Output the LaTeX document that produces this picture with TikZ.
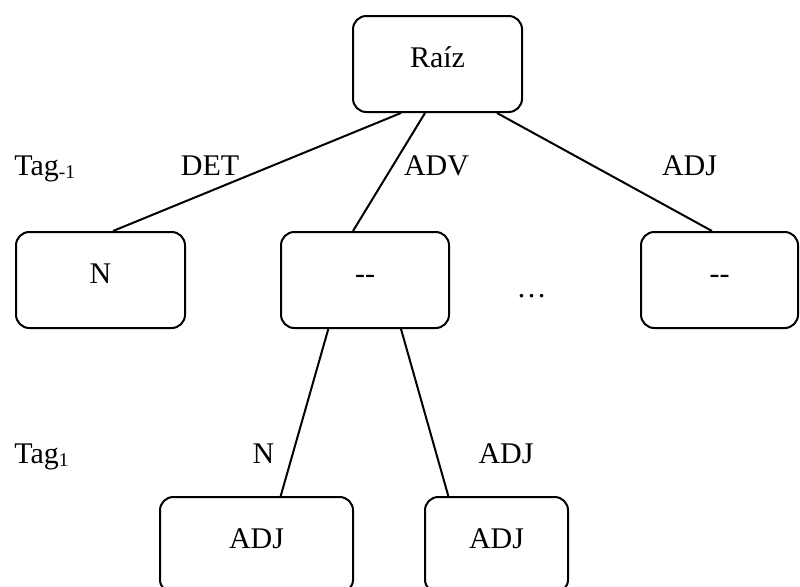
\documentclass[tikz,border=0pt]{standalone}
\usepackage{fontspec}
\setmainfont{Liberation Serif}
\usetikzlibrary{calc}
% small lowered index for the level labels
\newcommand\lvlidx[1]{\raisebox{-2.5pt}{\fontsize{14.6}{16}\selectfont #1}}
\begin{document}
\begin{tikzpicture}[x=0.75pt,y=-0.75pt,
  box/.style={draw, line width=1.5pt, rounded corners=10pt, inner sep=0pt,
    minimum height=72pt, text height=15pt, text depth=10.5pt,
    font=\fontsize{22.5}{27}\selectfont},
  lbl/.style={inner sep=0pt, anchor=base, font=\fontsize{22.5}{27}\selectfont},
  edge/.style={line width=1.5pt}]
\useasboundingbox (0,0) rectangle (800,586);
\clip (0,0) rectangle (800,586);

% tree nodes
\node[box, minimum width=126.75pt] (root) at (437.5,64) {Raíz};
\node[box, minimum width=126.75pt] (n) at (100.5,280) {N};
\node[box, minimum width=126pt] (mid) at (365,280) {-{}-};
\node[box, minimum width=117.75pt] (rgt) at (719.5,280) {-{}-};
\node[box, minimum width=144.75pt] (adjl) at (256.5,545) {ADJ};
\node[box, minimum width=107.25pt] (adjr) at (496.5,545) {ADJ};

% branches
\draw[edge] ($(root.south)+(-36.5,0)$) -- ($(n.north)+(12.5,0)$);
\draw[edge] ($(root.south)+(-12.5,0)$) -- ($(mid.north)+(-12,0)$);
\draw[edge] ($(root.south)+(59.5,0)$) -- ($(rgt.north)+(-7.5,0)$);
\draw[edge] ($(mid.south)+(-36.7,0)$) -- ($(adjl.north)+(24.2,0)$);
\draw[edge] ($(mid.south)+(36,0)$) -- ($(adjr.north)+(-48.2,0)$);

% level and branch labels
\node[lbl, anchor=base west] (tagprev) at (14,175) {Tag\lvlidx{-1}};
\node[lbl] (ldet) at (210,175) {DET};
\node[lbl] (ladv) at (436.5,175) {ADV};
\node[lbl] (ladj) at (689.5,175) {ADJ};
\node[lbl] (dots) at (531.5,297) {…};
\node[lbl, anchor=base west] (tagnext) at (14,463) {Tag\lvlidx{1}};
\node[lbl] (ln) at (263.5,463) {N};
\node[lbl] (ladjb) at (506,463) {ADJ};
\end{tikzpicture}
\end{document}
